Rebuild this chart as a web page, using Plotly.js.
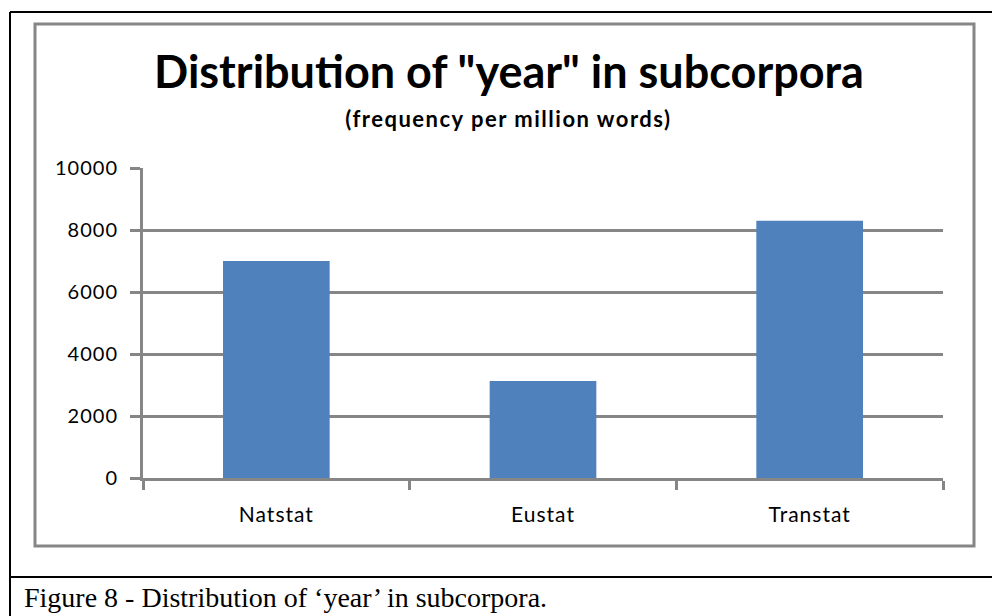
<!DOCTYPE html>
<html>
<head>
<meta charset="utf-8">
<script src="https://cdn.plot.ly/plotly-3.0.1.min.js"></script>
<style>
html,body{margin:0;padding:0;background:#fff;}
#chart{width:992px;height:616px;}
.xtick text, .ytick text{letter-spacing:1px;}
.annotation.subtitle text{letter-spacing:1.5px;}
</style>
</head>
<body>
<div id="chart"></div>
<script>
const categories = ["Natstat", "Eustat", "Transtat"];
const frequencies = [7000, 3130, 8300];
const yTickValues = [0, 2000, 4000, 6000, 8000, 10000];
const chartTitle = "Distribution of \"year\" in subcorpora";
const chartSubtitle = "(frequency per million words)";
const captionText = "Figure 8 - Distribution of \u2018year\u2019 in subcorpora.";

const W = 992, H = 616;
const px = x => x / W;
const py = y => 1 - y / H;
const gray = "#868686";
const font = "Lato, 'Open Sans', sans-serif";

const trace = {
  type: "bar",
  x: categories,
  y: frequencies,
  width: 0.4,
  marker: {color: "#4F81BD", line: {width: 0}},
  hoverinfo: "x+y"
};

const layout = {
  width: W, height: H,
  margin: {l: 0, r: 0, t: 0, b: 0},
  paper_bgcolor: "#fff", plot_bgcolor: "#fff",
  showlegend: false,
  xaxis: {
    domain: [px(143), px(943)],
    range: [-0.5, 2.5],
    showline: true, linecolor: gray, linewidth: 3,
    ticks: "outside", tickson: "boundaries", ticklen: 9, tickwidth: 3, tickcolor: gray,
    ticklabelstandoff: 16,
    showgrid: false, zeroline: false,
    tickfont: {family: font, size: 21, color: "#000"},
    fixedrange: true
  },
  yaxis: {
    domain: [py(478), py(168)],
    range: [0, 10000],
    tickvals: yTickValues,
    ticktext: yTickValues.map(String),
    showline: true, linecolor: gray, linewidth: 3,
    ticks: "outside", ticklen: 10, tickwidth: 3, tickcolor: gray,
    ticklabelstandoff: 8,
    showgrid: true, gridcolor: gray, gridwidth: 3,
    zeroline: false,
    tickfont: {family: font, size: 20, color: "#000"},
    fixedrange: true
  },
  title: {
    text: chartTitle,
    font: {family: font, size: 45, color: "#000", weight: "bold"},
    x: px(509), xref: "paper", xanchor: "center",
    y: py(72), yref: "paper", yanchor: "middle"
  },
  annotations: [
    {text: "<b>" + chartSubtitle + "</b>", xref: "paper", yref: "paper",
     x: px(508), y: py(118), xanchor: "center", yanchor: "middle", showarrow: false,
     font: {family: font, size: 22, color: "#000"}, name: "subtitle"},
    {text: captionText, xref: "paper", yref: "paper",
     x: px(22), y: py(597), xanchor: "left", yanchor: "middle", showarrow: false,
     font: {family: "'Liberation Serif', 'Times New Roman', serif", size: 28, color: "#000"}}
  ],
  shapes: [
    {type: "line", xref: "paper", yref: "paper", x0: px(10), x1: 1, y0: py(12), y1: py(12), line: {color: "#000", width: 2}},
    {type: "line", xref: "paper", yref: "paper", x0: px(10), x1: px(10), y0: py(12), y1: 0, line: {color: "#000", width: 2}},
    {type: "line", xref: "paper", yref: "paper", x0: px(10), x1: 1, y0: py(577), y1: py(577), line: {color: "#000", width: 2}},
    {type: "rect", xref: "paper", yref: "paper", x0: px(35), x1: px(974), y0: py(546), y1: py(24), line: {color: gray, width: 3}}
  ]
};

Plotly.newPlot("chart", [trace], layout, {displayModeBar: false}).then(() => {
  const ann = document.querySelectorAll("#chart .annotation");
  if (ann.length) ann[0].classList.add("subtitle");
});
</script>
</body>
</html>
